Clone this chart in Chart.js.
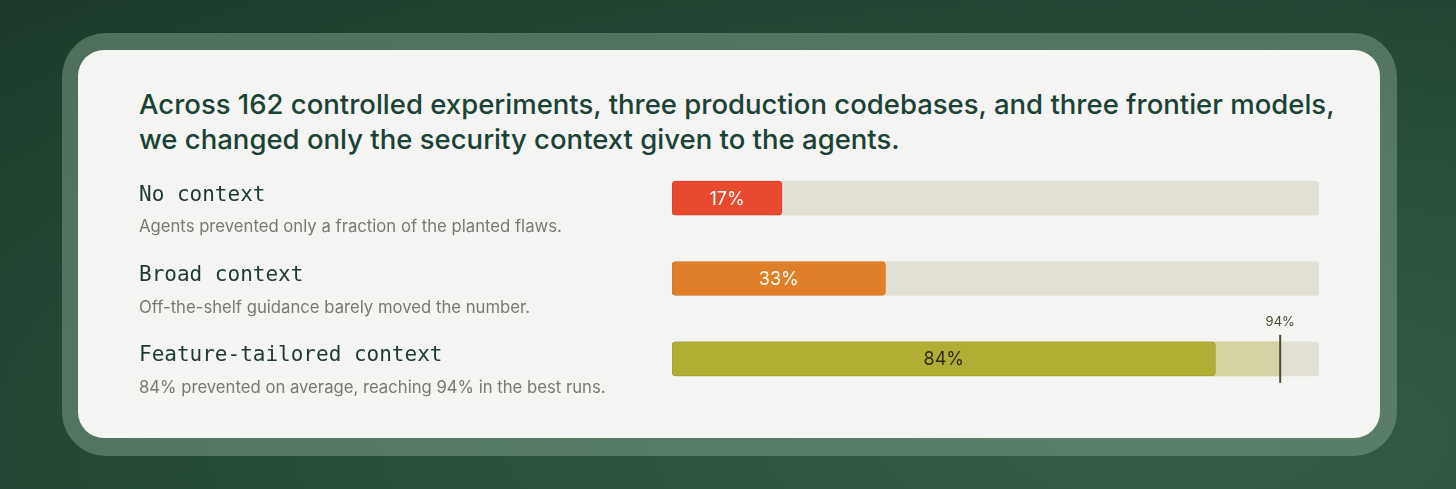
<!DOCTYPE html>
<html>
<head>
<meta charset="utf-8">
<script src="https://cdn.jsdelivr.net/npm/chart.js@4"></script>
<style>
  html, body { margin: 0; padding: 0; }
  body {
    width: 1456px; height: 489px; overflow: hidden; position: relative;
    background: radial-gradient(ellipse at 80% 90%, #335c46 0%, #2a4f3b 45%, #1d3a2a 100%);
    font-family: Inter, "Noto Sans", sans-serif;
  }
  .frame {
    position: absolute; left: 62px; top: 33px; width: 1335px; height: 423px;
    border-radius: 44px; background: rgba(140, 170, 150, 0.45);
  }
  .card {
    position: absolute; left: 78px; top: 50px; width: 1302px; height: 388px;
    border-radius: 26px; background: #f4f4f2;
  }
  .title {
    position: absolute; left: 139px; top: 87px; margin: 0;
    font-size: 27.5px; line-height: 35px; font-weight: 500; color: #1b4235;
  }
  #wrap { position: absolute; left: 0; top: 0; width: 1456px; height: 489px; }
</style>
</head>
<body>
<div class="frame"></div>
<div class="card"></div>
<p class="title">Across 162 controlled experiments, three production codebases, and three frontier models,<br>we changed only the security context given to the agents.</p>
<div id="wrap"><canvas id="chart"></canvas></div>
<script>
// data
const categories = ["No context", "Broad context", "Feature-tailored context"];
const notes = [
  "Agents prevented only a fraction of the planted flaws.",
  "Off-the-shelf guidance barely moved the number.",
  "84% prevented on average, reaching 94% in the best runs."
];
const averages = [17, 33, 84];
const bestRuns = [null, null, 94];
const fullScale = [100, 100, 100];

const barColors = ["#e84a2f", "#e07f27", "#b0ae35"];
const barEdges = ["#d8412a", "#d87524", "#a4a22e"];
const labelColors = ["#ffffff", "#ffffff", "#2b2b1c"];

// texto da esquerda + rótulos dentro das barras + marcador 94%
const extras = {
  id: "extras",
  afterDatasetsDraw(chart) {
    const ctx = chart.ctx;
    const x = chart.scales.x;
    const y = chart.scales.y;
    ctx.save();
    categories.forEach((c, i) => {
      const yc = y.getPixelForValue(i);
      ctx.textBaseline = "middle";
      ctx.textAlign = "left";
      ctx.fillStyle = "#1d3a30";
      ctx.font = "21px 'DejaVu Sans Mono', monospace";
      ctx.fillText(c, 139, yc - 3);
      ctx.fillStyle = "#7a796f";
      ctx.font = "16.7px Inter, 'Noto Sans', sans-serif";
      ctx.fillText(notes[i], 139, yc + 29);

      const x0 = x.getPixelForValue(0);
      const x1 = x.getPixelForValue(averages[i]);
      ctx.textAlign = "center";
      ctx.fillStyle = labelColors[i];
      ctx.font = "18px Inter, 'Noto Sans', sans-serif";
      ctx.fillText(averages[i] + "%", (x0 + x1) / 2, yc + 1);

      if (bestRuns[i] != null) {
        const xm = x.getPixelForValue(bestRuns[i]);
        ctx.strokeStyle = "#3f5230";
        ctx.lineWidth = 2;
        ctx.beginPath();
        ctx.moveTo(xm, yc - 24);
        ctx.lineTo(xm, yc + 24);
        ctx.stroke();
        ctx.fillStyle = "#3f4a2c";
        ctx.font = "13px Inter, 'Noto Sans', sans-serif";
        ctx.fillText(bestRuns[i] + "%", xm, yc - 37);
      }
    });
    ctx.restore();
  }
};

new Chart(document.getElementById("chart"), {
  type: "bar",
  data: {
    labels: categories,
    datasets: [
      {
        label: "track",
        data: fullScale,
        backgroundColor: "#e2e0d5",
        borderRadius: 4,
        borderSkipped: false,
        barThickness: 34,
        grouped: false,
        order: 3
      },
      {
        label: "best runs",
        data: bestRuns,
        backgroundColor: "#d4d2a0",
        borderRadius: 4,
        borderSkipped: false,
        barThickness: 34,
        grouped: false,
        order: 2
      },
      {
        label: "average",
        data: averages,
        backgroundColor: barColors,
        borderColor: barEdges,
        borderWidth: 1,
        borderRadius: 4,
        borderSkipped: false,
        barThickness: 34,
        grouped: false,
        order: 1
      }
    ]
  },
  options: {
    indexAxis: "y",
    responsive: true,
    maintainAspectRatio: false,
    animation: false,
    layout: { padding: { left: 672, right: 137, top: 158, bottom: 90 } },
    scales: {
      x: { display: false, min: 0, max: 100 },
      y: { display: false }
    },
    plugins: {
      legend: { display: false },
      tooltip: { enabled: false }
    }
  },
  plugins: [extras]
});
</script>
</body>
</html>
